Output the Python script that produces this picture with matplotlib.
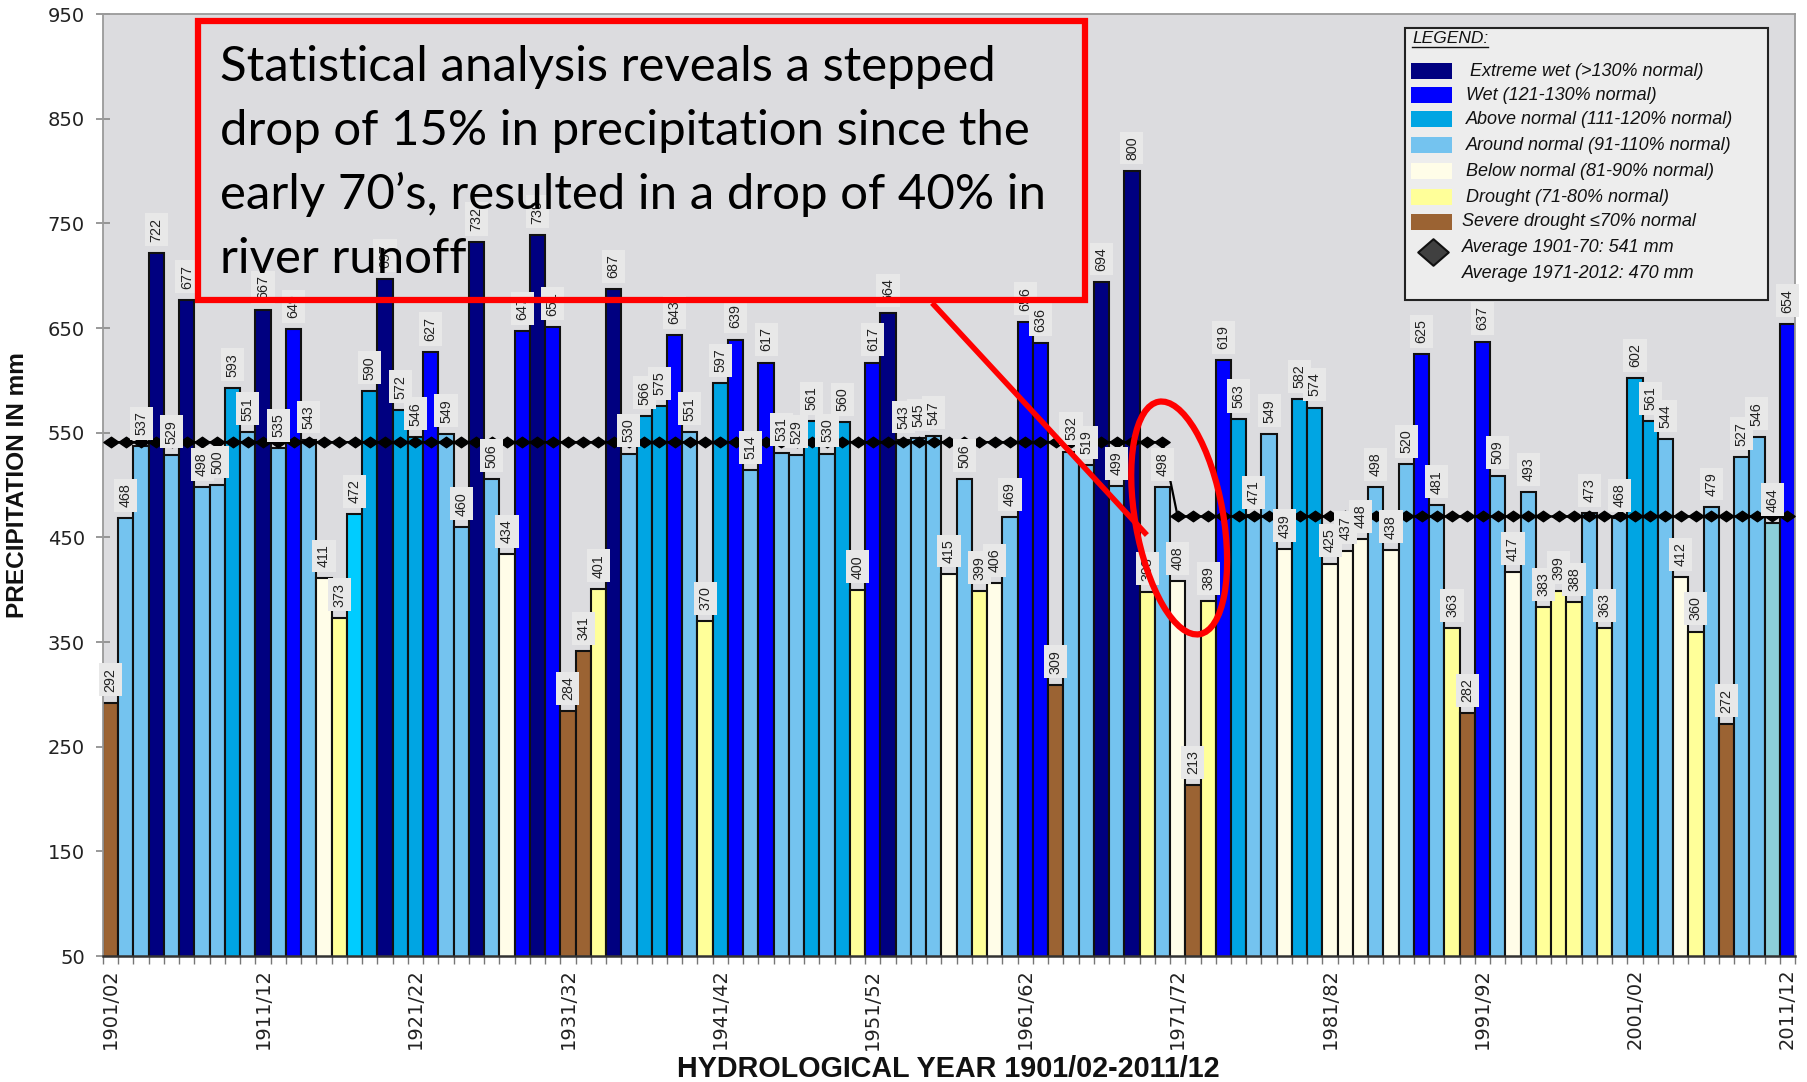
import numpy as np
import matplotlib
matplotlib.use("Agg")
import matplotlib.pyplot as plt
from matplotlib.patches import Rectangle, Ellipse
from matplotlib.lines import Line2D
from matplotlib.path import Path
from matplotlib import transforms, font_manager

# ---------------- data ----------------
first_year, last_year = 1901, 2011
years = [f"{y}/{(y + 1) % 100:02d}" for y in range(first_year, last_year + 1)]

precip = [292, 468, 537, 722, 529, 677, 498, 500, 593, 551,
          667, 535, 649, 543, 411, 373, 472, 590, 697, 572,
          546, 627, 549, 460, 732, 506, 434, 647, 739, 651,
          284, 341, 401, 687, 530, 566, 575, 643, 551, 370,
          597, 639, 514, 617, 531, 529, 561, 530, 560, 400,
          617, 664, 543, 545, 547, 415, 506, 399, 406, 469,
          656, 636, 309, 532, 519, 694, 499, 800, 398, 498,
          408, 213, 389, 619, 563, 471, 549, 439, 582, 574,
          425, 437, 448, 498, 438, 520, 625, 481, 363, 282,
          637, 509, 417, 493, 383, 399, 388, 473, 363, 468,
          602, 561, 544, 412, 360, 479, 272, 527, 546, 464,
          654]

klass = ["SD", "N", "N", "EW", "N", "EW", "N", "N", "AN", "N",
         "EW", "N", "W", "N", "BN", "D", "C", "AN", "EW", "AN",
         "AN", "W", "N", "N", "EW", "N", "BN", "W", "EW", "W",
         "SD", "SD", "D", "EW", "N", "AN", "AN", "W", "N", "D",
         "AN", "W", "N", "W", "N", "N", "AN", "N", "AN", "D",
         "W", "EW", "N", "N", "N", "BN", "N", "D", "BN", "N",
         "W", "W", "SD", "N", "N", "EW", "N", "EW", "D", "N",
         "BN", "SD", "D", "W", "AN", "N", "N", "BN", "AN", "AN",
         "BN", "BN", "BN", "N", "BN", "N", "W", "N", "D", "SD",
         "W", "N", "BN", "N", "D", "D", "D", "N", "D", "N",
         "AN", "AN", "N", "BN", "D", "N", "SD", "N", "N", "T",
         "W"]

avg_early = 541          # 1901-70
avg_late = 470           # 1971-2012
split_index = 70         # first year of the late period (1971/72)

tick_positions = [0, 10, 20, 30, 40, 50, 60, 70, 80, 90, 100, 110]
tick_labels = ["1901/02", "1911/12", "1921/22", "1931/32", "1941/42", "1951/52",
               "1961/62", "1971/72", "1981/82", "1991/92", "2001/02", "2011/12"]

class_colors = {"EW": "#000080", "W": "#0000FF", "AN": "#00A5E3", "N": "#74C3EF",
                "BN": "#FFFDE8", "D": "#FFFF99", "SD": "#9B6333",
                "C": "#00CCFF", "T": "#8CCFDA"}

legend_keys = ["EW", "W", "AN", "N", "BN", "D", "SD"]
legend_labels = ["Extreme wet (>130% normal)", "Wet (121-130% normal)",
                 "Above normal (111-120% normal)", "Around normal (91-110% normal)",
                 "Below normal (81-90% normal)", "Drought (71-80% normal)",
                 "Severe drought \u226470% normal"]
avg_labels = ["Average 1901-70: 541 mm", "Average 1971-2012: 470 mm"]

note_lines = ["Statistical analysis reveals a stepped",
              "drop of 15% in precipitation since the",
              "early 70\u2019s, resulted in a drop of 40% in",
              "river runoff"]

# ---------------- figure ----------------
W, H = 1808, 1082
fig = plt.figure(figsize=(W / 100, H / 100), dpi=100)
fig.patch.set_facecolor("white")

def fx(px):
    return px / W

def fy(py):
    return 1 - py / H

names = {f.name for f in font_manager.fontManager.ttflist}
narrow = "Liberation Sans Narrow" if "Liberation Sans Narrow" in names else "Liberation Sans"

ax = fig.add_axes([fx(103), fy(956), fx(1795) - fx(103), fy(14) - fy(956)])
ax.set_facecolor("#DCDCDF")

x = np.arange(len(precip))
colors = [class_colors[k] for k in klass]
ax.bar(x, precip, width=1.0, color=colors, edgecolor="#111111", linewidth=1.5, zorder=2)

avg_line = np.where(x < split_index, avg_early, avg_late)
diamond = Path([(0, 1), (1.45, 0), (0, -1), (-1.45, 0), (0, 1)],
               [Path.MOVETO, Path.LINETO, Path.LINETO, Path.LINETO, Path.CLOSEPOLY])
ax.plot(x, avg_line, color="black", lw=1.6, marker=diamond, markersize=11,
        markerfacecolor="black", markeredgecolor="black", zorder=3)

for xi, v in zip(x, precip):
    ax.annotate(str(v), (xi, v), xytext=(0, 8), textcoords="offset points",
                rotation=90, ha="center", va="bottom", fontsize=10.3,
                family="Liberation Sans", color="#222222", zorder=4,
                bbox=dict(boxstyle="square,pad=0.32", fc="#E8E8E8", ec="none"))

ax.set_xlim(-0.5, len(precip) - 0.5)
ax.set_ylim(50, 950)
ax.set_yticks(np.arange(50, 951, 100))
ax.set_xticks(tick_positions)
ax.set_xticklabels(tick_labels)
ax.set_xticks(np.arange(-0.5, len(precip), 1.0), minor=True)
ax.tick_params(axis="x", which="major", length=0, pad=9, labelsize=14,
               labelrotation=90, labelcolor="#222222")
ax.tick_params(axis="x", which="minor", length=6, color="#777777", width=1)
ax.tick_params(axis="y", direction="inout", length=10, color="#888888", width=1.2,
               pad=8, labelsize=14, labelcolor="#222222")
for s in ["top", "right", "left"]:
    ax.spines[s].set_color("#9A9A9A")
    ax.spines[s].set_linewidth(1.3)
ax.spines["bottom"].set_color("#333333")
ax.spines["bottom"].set_linewidth(1.8)

renderer = fig.canvas.get_renderer()

# axis titles (fitted to reference lengths)
ylab = fig.text(fx(18), fy(485), "PRECIPITATION IN mm", rotation=90, ha="center",
                va="center", fontsize=17, fontweight="bold", family=narrow, color="#111111")
ylab.set_fontsize(17 * 266 / ylab.get_window_extent(renderer).height)
xlab = fig.text(fx(948), fy(1069), "HYDROLOGICAL YEAR 1901/02-2011/12", ha="center",
                va="center", fontsize=18, fontweight="bold", family=narrow, color="#111111")
xlab.set_fontsize(18 * 544 / xlab.get_window_extent(renderer).width)

# ---------------- legend ----------------
fig.add_artist(Rectangle((fx(1405), fy(300)), fx(1768) - fx(1405), fy(28) - fy(300),
                         transform=fig.transFigure, fc="#EDEDED", ec="#222222", lw=1.5))
ttl = fig.text(fx(1412), fy(43), "LEGEND:", style="italic", fontsize=12.5,
               family="Liberation Sans", va="baseline", ha="left", color="#111111")
tw = ttl.get_window_extent(renderer).width
fig.add_artist(Line2D([fx(1412), fx(1412 + tw)], [fy(47), fy(47)], transform=fig.transFigure,
                      color="#111111", lw=1.0))
row_centers = [71, 95, 119, 145, 171, 197, 222]
text_x = [1470, 1466, 1466, 1466, 1466, 1466, 1462]
for key, lab, yc, tx in zip(legend_keys, legend_labels, row_centers, text_x):
    fig.add_artist(Rectangle((fx(1411), fy(yc + 8)), fx(1452) - fx(1411), fy(yc - 8) - fy(yc + 8),
                             transform=fig.transFigure, fc=class_colors[key], ec="none"))
    fig.text(fx(tx), fy(yc), lab, style="italic", fontsize=13, family="Liberation Sans",
             va="center", ha="left", color="#111111")
leg_diamond = Path([(0, 1), (1.15, 0), (0, -1), (-1.15, 0), (0, 1)],
                   [Path.MOVETO, Path.LINETO, Path.LINETO, Path.LINETO, Path.CLOSEPOLY])
fig.add_artist(Line2D([fx(1433)], [fy(252)], transform=fig.transFigure, marker=leg_diamond,
                      markersize=22, markerfacecolor="#404040", markeredgecolor="#111111",
                      markeredgewidth=1.5, linestyle="none"))
for lab, yc in zip(avg_labels, [248, 273]):
    fig.text(fx(1462), fy(yc), lab, style="italic", fontsize=13, family="Liberation Sans",
             va="center", ha="left", color="#111111")

# ---------------- red annotation ----------------
fig.add_artist(Rectangle((fx(198), fy(300)), fx(1085) - fx(198), fy(21) - fy(300),
                         transform=fig.transFigure, fc="none", ec="#FF0000", lw=4.5))
baselines = [81, 145, 209, 273]
note_texts = [fig.text(fx(220), fy(b), line, ha="left", va="baseline", fontsize=36,
                       family=["Lato", "DejaVu Sans"], color="black")
              for line, b in zip(note_lines, baselines)]
fs = 36 * 776 / note_texts[0].get_window_extent(renderer).width
for t in note_texts:
    t.set_fontsize(fs)

fig.add_artist(Line2D([fx(934), fx(1145)], [fy(305), fy(533)], transform=fig.transFigure,
                      color="#FF0000", lw=4.0))
ell_trans = fig.dpi_scale_trans + transforms.ScaledTranslation(split_index + 0.1, avg_late - 1.5,
                                                               ax.transData)
ell = Ellipse((0, 0), 0.88, 2.36, angle=10, transform=ell_trans, fill=False,
              ec="#FF0000", lw=4.5, zorder=8, clip_on=False)
ax.add_artist(ell)

fig.savefig("out.png", dpi=100)
